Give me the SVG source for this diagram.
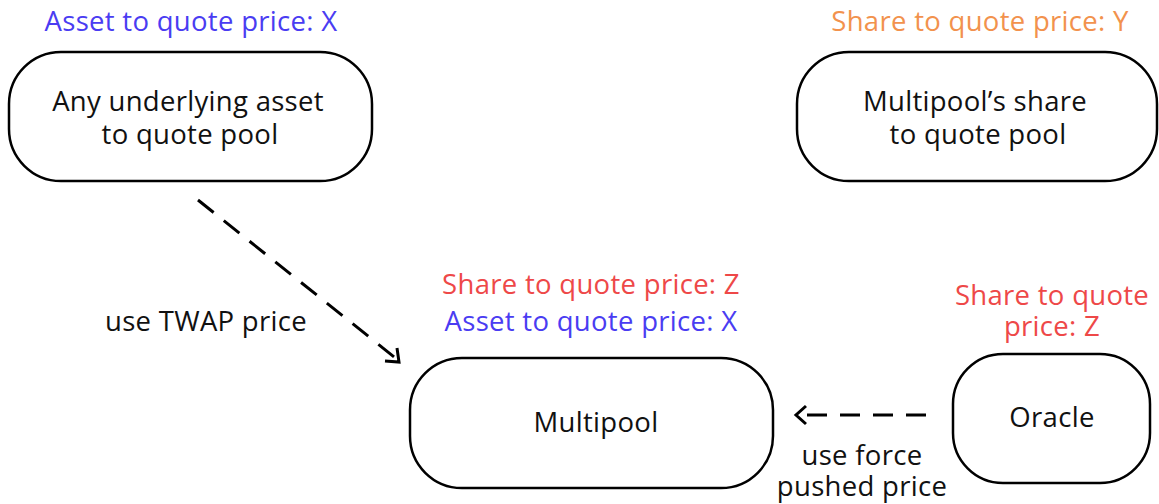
<svg xmlns="http://www.w3.org/2000/svg" width="1159" height="504" viewBox="0 0 1159 504">
<defs>
<style>
.node{fill:#fff;stroke:#000;stroke-width:2.5}
text{font-family:"Open Sans","Noto Sans",sans-serif;font-size:27.5px;letter-spacing:0.3px;text-anchor:middle;fill:#111}
.blue{fill:#4a3cf2}
.orange{fill:#f2924d}
.red{fill:#ee4848}
.edge{fill:none;stroke:#000;stroke-width:3;stroke-dasharray:20 13}
</style>
</defs>
<rect width="1159" height="504" fill="#fff"/>
<g id="connectors">
<line class="edge" x1="198" y1="200" x2="398" y2="360"/>
<path d="M385,361 L399,362 L397,348" fill="none" stroke="#000" stroke-width="3"/>
<line class="edge" x1="926" y1="415" x2="806" y2="415"/>
<path d="M806,406 L796,415 L806,424" fill="none" stroke="#000" stroke-width="3"/>
<text x="206" y="331">use TWAP price</text>
<text x="862" y="465">use force</text>
<text x="862" y="496">pushed price</text>
</g>
<g id="asset-pool">
<text class="blue" x="191" y="31">Asset to quote price: X</text>
<rect class="node" x="9" y="52" width="363" height="129" rx="52"/>
<text x="188" y="111">Any underlying asset</text>
<text x="190" y="144">to quote pool</text>
</g>
<g id="share-pool">
<text class="orange" x="980" y="31">Share to quote price: Y</text>
<rect class="node" x="797" y="52" width="360" height="129" rx="52"/>
<text x="975" y="111">Multipool’s share</text>
<text x="978" y="144">to quote pool</text>
</g>
<g id="multipool">
<text class="red" x="591" y="294">Share to quote price: Z</text>
<text class="blue" x="591" y="331">Asset to quote price: X</text>
<rect class="node" x="410" y="358" width="363" height="130" rx="52"/>
<text x="596" y="432">Multipool</text>
</g>
<g id="oracle">
<text class="red" x="1052" y="305">Share to quote</text>
<text class="red" x="1052" y="336">price: Z</text>
<rect class="node" x="953" y="354" width="197" height="129" rx="50"/>
<text x="1052" y="427">Oracle</text>
</g>
</svg>
